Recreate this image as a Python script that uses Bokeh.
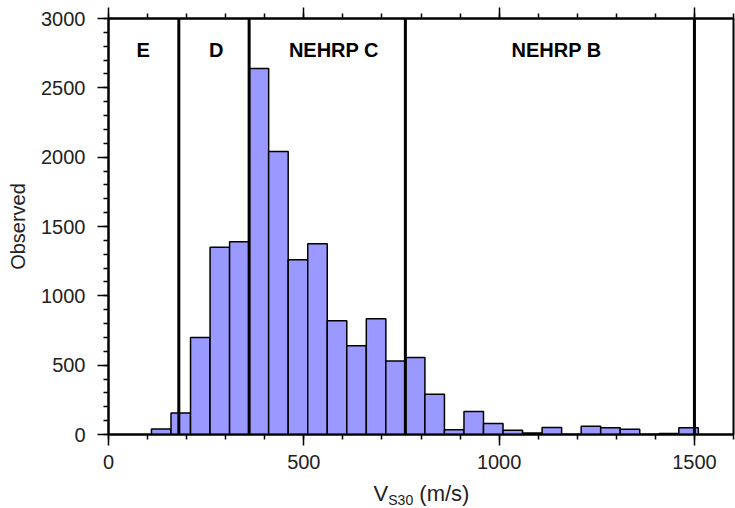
from bokeh.plotting import figure
from bokeh.models import LinearAxis, Span, Label, Range1d, FixedTicker, CustomJSTickFormatter, Div
from bokeh.layouts import column
from bokeh.embed import file_html
from bokeh.resources import INLINE

# ---- data ----
bin_left = [110, 160, 210, 260, 310, 360, 410, 460, 510, 560, 610, 660, 710, 760,
            810, 860, 910, 960, 1010, 1060, 1110, 1160, 1210, 1260, 1310, 1360, 1410, 1460]
bin_width = 50
counts = [40, 155, 700, 1350, 1390, 2640, 2040, 1260, 1375, 820, 640, 835, 530, 555,
          290, 35, 165, 80, 30, 10, 50, 0, 60, 48, 38, 0, 8, 48]
class_bounds = [180, 360, 760, 1500]
class_names = ["E", "D", "NEHRP C", "NEHRP B"]
class_label_x = [89, 276, 577, 1147]
x_ticks = [0, 500, 1000, 1500]
y_ticks = [0, 500, 1000, 1500, 2000, 2500, 3000]
y_label = "Observed"
x_label_main, x_label_sub, x_label_unit = "V", "S30", "(m/s)"

FONT = "Liberation Sans"
FS = "20px"

bin_right = [b + bin_width for b in bin_left]

p = figure(width=735, height=484, output_backend="svg", toolbar_location=None,
           x_range=Range1d(0, 1600), y_range=Range1d(0, 3000),
           x_axis_location=None, y_axis_location=None,
           min_border_left=108, min_border_right=2, min_border_top=18, min_border_bottom=50)
p.xgrid.visible = False
p.ygrid.visible = False
p.outline_line_color = "black"
p.outline_line_width = 2
p.background_fill_color = "white"
p.border_fill_color = "white"

p.quad(left=bin_left, right=bin_right, bottom=0, top=counts,
       fill_color="#9999ff", line_color="black", line_width=1.5)

for b in class_bounds:
    p.add_layout(Span(location=b, dimension="height", line_color="black", line_width=3))

for name, x in zip(class_names, class_label_x):
    p.add_layout(Label(x=x, y=2770, text=name, text_align="center", text_baseline="middle",
                       text_font=FONT, text_font_size=FS, text_font_style="bold",
                       text_color="black"))

def style_axis(ax, labels=True, standoff=9):
    ax.axis_line_width = 2
    ax.axis_line_color = "black"
    ax.major_tick_out = 11
    ax.major_tick_in = 0
    ax.minor_tick_out = 5
    ax.minor_tick_in = 0
    ax.major_tick_line_width = 1.5
    ax.minor_tick_line_width = 1.5
    ax.major_tick_line_color = "black"
    ax.minor_tick_line_color = "black"
    ax.major_label_text_font = FONT
    ax.major_label_text_color = "#222222"
    ax.major_label_text_font_size = FS
    if labels:
        ax.major_label_standoff = standoff
    else:
        ax.formatter = CustomJSTickFormatter(code="return ''")
        ax.major_label_standoff = 0

xb = LinearAxis(ticker=FixedTicker(ticks=x_ticks, minor_ticks=list(range(0, 1601, 100))))
style_axis(xb, standoff=9)
p.add_layout(xb, "below")

xt = LinearAxis(ticker=FixedTicker(ticks=x_ticks, minor_ticks=list(range(0, 1601, 100))))
style_axis(xt, labels=False)
p.add_layout(xt, "above")

yl = LinearAxis(ticker=FixedTicker(ticks=y_ticks, minor_ticks=list(range(0, 3001, 100))),
                axis_label=y_label)
style_axis(yl, standoff=12)
yl.axis_label_text_font = FONT
yl.axis_label_text_font_size = FS
yl.axis_label_text_font_style = "normal"
yl.axis_label_text_color = "#222222"
yl.axis_label_standoff = 9
p.add_layout(yl, "left")

# ---- x-axis title with subscript, as a text strip under the plot ----
html = (
    '<div style="width:627px;margin:0 0 0 108px;padding:0;text-align:center;'
    f'font-family:\'{FONT}\';font-size:22px;line-height:20px;color:#222222;white-space:nowrap;">'
    f'{x_label_main}<span style="font-size:14px;line-height:0;position:relative;top:4px;">'
    f'{x_label_sub}</span> {x_label_unit}</div>'
)
title_div = Div(text=html, width=735, height=24, margin=(0, 0, 0, 0))

layout = column(p, title_div, spacing=0)
open("out.html", "w").write(file_html(layout, INLINE))
